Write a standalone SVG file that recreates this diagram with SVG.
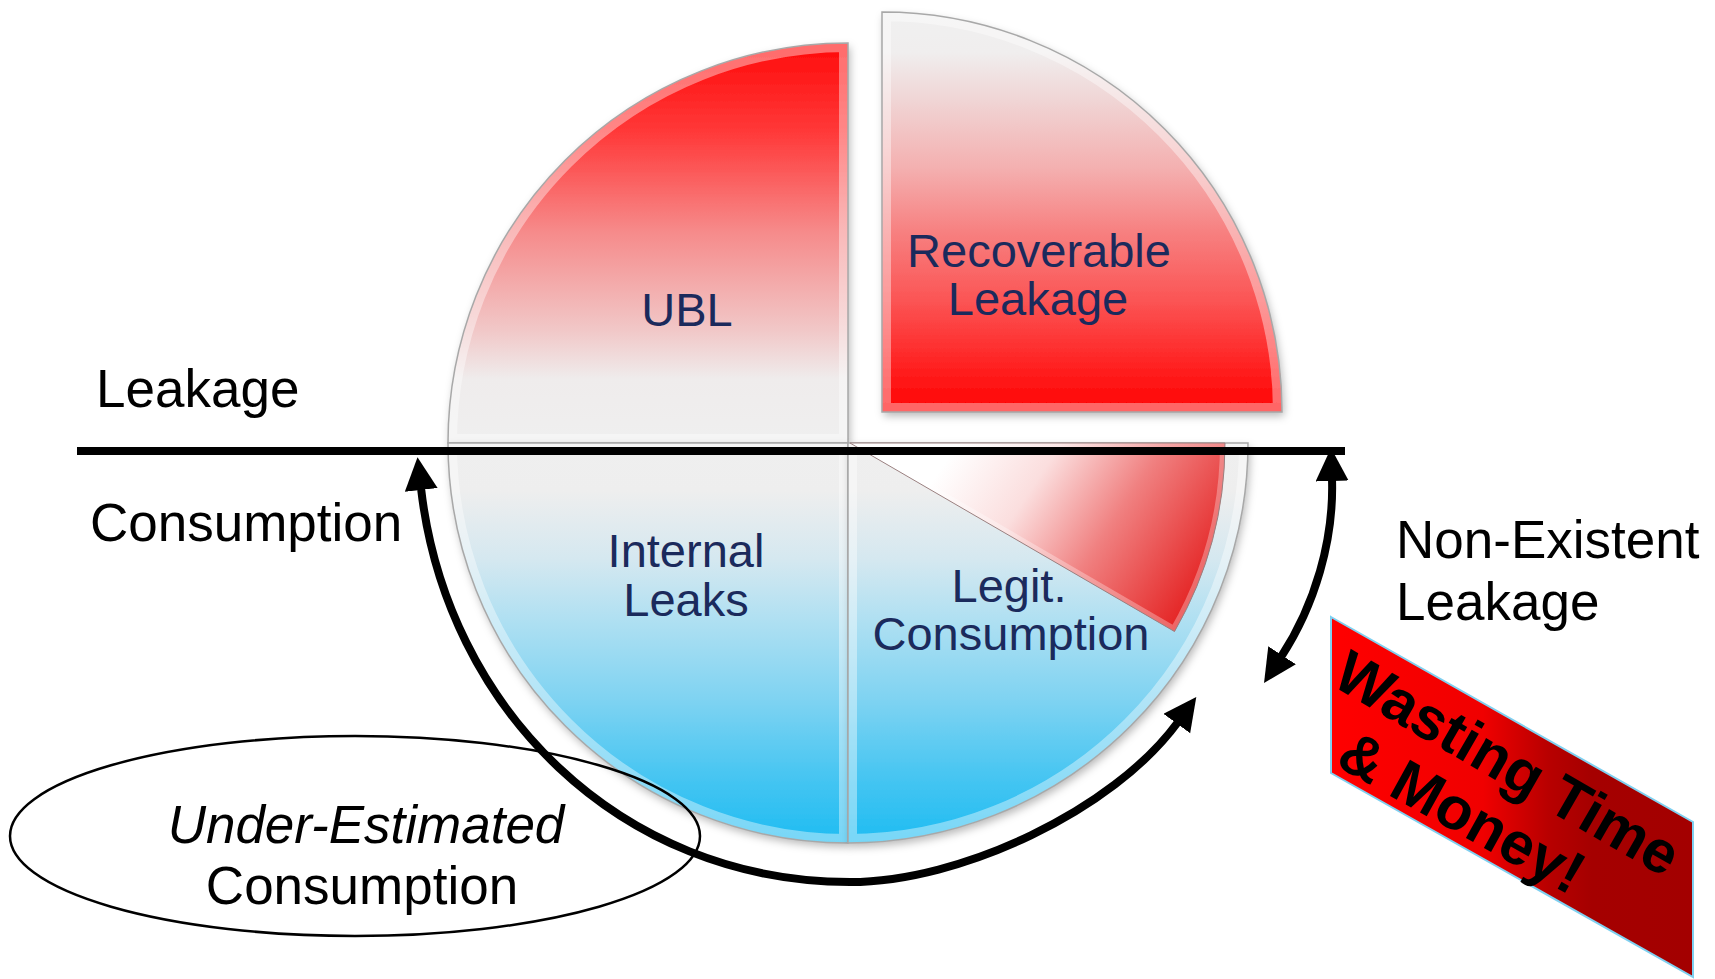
<svg xmlns="http://www.w3.org/2000/svg" width="1715" height="979" viewBox="0 0 1715 979">
<style>
.pielbl{font-family:"Liberation Sans",Arial,sans-serif;font-size:47px;fill:#1b2a5c;text-anchor:middle}
.lbl{font-family:"Liberation Sans",Arial,sans-serif;font-size:53px;fill:#000}
.edge{fill:none;stroke:#a8a8a8;stroke-width:1.5}
.bevel{fill:none;stroke:#ffffff;stroke-width:18;stroke-opacity:0.4}
.conn{fill:none;stroke:#000;stroke-width:8}
.banner{font-family:"Liberation Sans",Arial,sans-serif;font-size:60px;font-weight:bold;fill:#000}
</style>
<defs>
<filter id="sh" x="-10%" y="-10%" width="125%" height="125%">
<feDropShadow dx="2" dy="4" stdDeviation="4" flood-color="#000" flood-opacity="0.28"/>
</filter>
<linearGradient id="gUbl" gradientUnits="userSpaceOnUse" x1="0" y1="43" x2="0" y2="443">
<stop offset="0" stop-color="#ff0a0a"/><stop offset="0.22" stop-color="#ff3838"/><stop offset="0.47" stop-color="#f68a8a"/><stop offset="0.72" stop-color="#f1c8c8"/><stop offset="0.84" stop-color="#efecec"/><stop offset="1" stop-color="#efefef"/>
</linearGradient>
<linearGradient id="gRec" gradientUnits="userSpaceOnUse" x1="0" y1="12" x2="0" y2="412">
<stop offset="0" stop-color="#f0f0f0"/><stop offset="0.1" stop-color="#f0eeee"/><stop offset="0.22" stop-color="#f0d5d5"/><stop offset="0.39" stop-color="#f4b0b0"/><stop offset="0.55" stop-color="#f78080"/><stop offset="0.72" stop-color="#fb5555"/><stop offset="0.89" stop-color="#ff2020"/><stop offset="1" stop-color="#ff0000"/>
</linearGradient>
<linearGradient id="gBlue" gradientUnits="userSpaceOnUse" x1="0" y1="443" x2="0" y2="843">
<stop offset="0" stop-color="#efefef"/><stop offset="0.12" stop-color="#eeeeee"/><stop offset="0.29" stop-color="#d5e8f0"/><stop offset="0.44" stop-color="#b0e0f2"/><stop offset="0.64" stop-color="#7fd3f2"/><stop offset="0.84" stop-color="#45c5f2"/><stop offset="1" stop-color="#1ebcf2"/>
</linearGradient>
<linearGradient id="gWedge" gradientUnits="userSpaceOnUse" x1="960" y1="440" x2="1200" y2="600">
<stop offset="0" stop-color="#ffffff"/><stop offset="0.3" stop-color="#fbdede"/><stop offset="0.6" stop-color="#f08080"/><stop offset="1" stop-color="#e42020"/>
</linearGradient>
<linearGradient id="gBanner" gradientUnits="userSpaceOnUse" x1="1331" y1="0" x2="1693" y2="0">
<stop offset="0" stop-color="#ff0000"/><stop offset="0.42" stop-color="#f00000"/><stop offset="0.6" stop-color="#b80000"/><stop offset="0.72" stop-color="#a50000"/><stop offset="1" stop-color="#a30000"/>
</linearGradient>
<clipPath id="cUbl"><path id="pUbl" d="M848 443 L448 443 A400 400 0 0 1 848 43 Z"/></clipPath>
<clipPath id="cRec"><path id="pRec" d="M882 412 L882 12 A400 400 0 0 1 1282 412 Z"/></clipPath>
<clipPath id="cInt"><path id="pInt" d="M848 443 L848 843 A400 400 0 0 1 448 443 Z"/></clipPath>
<clipPath id="cLeg"><path id="pLeg" d="M848 443 L1248 443 A400 400 0 0 1 848 843 Z"/></clipPath>
<clipPath id="cWed"><path id="pWed" d="M850 443 L1225 443 A377 377 0 0 1 1174.5 631.5 Z"/></clipPath>
<marker id="ah" markerUnits="userSpaceOnUse" markerWidth="34" markerHeight="34" viewBox="0 0 34 34" refX="2" refY="16.5" orient="auto-start-reverse">
<path d="M0,0 L33,16.5 L0,33 Z" fill="#000"/>
</marker>
</defs>

<g id="node-ubl">
<use href="#pUbl" fill="url(#gUbl)" filter="url(#sh)"/>
<use href="#pUbl" class="bevel" clip-path="url(#cUbl)"/>
<use href="#pUbl" class="edge"/>
<text class="pielbl" x="687" y="326">UBL</text>
</g>

<g id="node-recoverable">
<use href="#pRec" fill="url(#gRec)" filter="url(#sh)"/>
<use href="#pRec" class="bevel" clip-path="url(#cRec)"/>
<use href="#pRec" class="edge"/>
<text class="pielbl" x="1039" y="267">Recoverable</text>
<text class="pielbl" x="1038" y="315">Leakage</text>
</g>

<g id="node-internal">
<use href="#pInt" fill="url(#gBlue)" filter="url(#sh)"/>
<use href="#pInt" class="bevel" clip-path="url(#cInt)"/>
<use href="#pInt" class="edge"/>
<text class="pielbl" x="686" y="567">Internal</text>
<text class="pielbl" x="686" y="616">Leaks</text>
</g>

<g id="node-legit">
<use href="#pLeg" fill="url(#gBlue)" filter="url(#sh)"/>
<use href="#pLeg" class="bevel" clip-path="url(#cLeg)"/>
<use href="#pLeg" class="edge"/>
<use href="#pWed" fill="url(#gWedge)"/>
<use href="#pWed" fill="none" stroke="#ffffff" stroke-opacity="0.3" stroke-width="10" clip-path="url(#cWed)"/>
<use href="#pWed" fill="none" stroke="#9a8080" stroke-width="1"/>
<text class="pielbl" x="1009" y="602">Legit.</text>
<text class="pielbl" x="1011" y="650">Consumption</text>
</g>

<g id="node-leakage-label">
<text class="lbl" x="96" y="407">Leakage</text>
</g>
<g id="node-consumption-label">
<text class="lbl" x="90" y="541">Consumption</text>
</g>
<g id="node-nonexistent">
<text class="lbl" x="1396" y="558">Non-Existent</text>
<text class="lbl" x="1396" y="620">Leakage</text>
</g>

<g id="node-underestimated">
<ellipse cx="355" cy="836" rx="345" ry="100" fill="none" stroke="#000" stroke-width="2.5"/>
<text class="lbl" x="366" y="843" text-anchor="middle" font-style="italic">Under-Estimated</text>
<text class="lbl" x="362" y="904" text-anchor="middle">Consumption</text>
</g>

<g id="node-banner">
<polygon points="1331,617 1693,822 1693,977 1331,773" fill="url(#gBanner)" stroke="#7fd0f0" stroke-width="2"/>
<text class="banner" transform="translate(1330,684.5) rotate(30)">Wasting Time</text>
<text class="banner" transform="translate(1334,764.8) rotate(29)">&amp; Money!</text>
</g>

<g id="connectors">
<line x1="77" y1="451" x2="1345" y2="451" stroke="#000" stroke-width="8"/>
<path class="conn" d="M421 488 C446 708 620 882 850 882 C960 882 1113 811 1178 722" marker-start="url(#ah)" marker-end="url(#ah)"/>
<path class="conn" d="M1332 479 C1334 540 1315 605 1281 657" marker-start="url(#ah)" marker-end="url(#ah)"/>
</g>
</svg>
